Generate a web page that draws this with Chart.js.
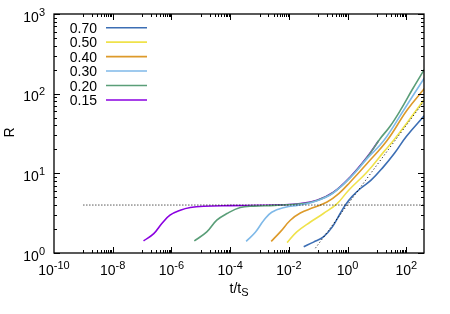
<!DOCTYPE html>
<html><head><meta charset="utf-8">
<script src="https://cdn.jsdelivr.net/npm/chart.js@4.4.1/dist/chart.umd.min.js"></script>
<style>html,body{margin:0;padding:0;background:#fff}#wrap{width:450px;height:314px;position:relative}</style>
</head><body><div id="wrap"><canvas id="c"></canvas></div>
<script>
// ---- data ----
const seriesLabels = ['0.70', '0.50', '0.40', '0.30', '0.20', '0.15'];
const seriesColors = ['#3c6eb4', '#efe24a', '#dd9a2a', '#7fb9e8', '#5a9e78', '#8a00e0'];

const t070 = [3.2e-2, 6.9e-2, 0.15, 0.30, 0.56, 0.83, 1.41, 2.8, 6.3, 15.8, 40, 100, 412];
const r070 = [1.2, 1.37, 1.59, 2.12, 3.13, 3.98, 5.1, 6.5, 8.2, 11.8, 18, 29, 53];

const t050 = [8.7e-3, 1.86e-2, 5.4e-2, 0.15, 0.44, 1.07, 4.6, 17, 37, 126, 412];
const r050 = [1.35, 1.84, 2.45, 3.13, 4.17, 6.1, 10.4, 18.6, 26, 47, 85];

const t040 = [2.5e-3, 5.1e-3, 1.12e-2, 2.45e-2, 6.9e-2, 0.2, 0.5, 1.23, 4.6, 22.4, 105, 412];
const r040 = [1.40, 1.84, 2.58, 3.18, 3.72, 4.37, 5.57, 7.8, 13.3, 26, 62, 116];

const t030 = [3.5e-4, 7.2e-4, 1.38e-3, 2.6e-3, 7.6e-3, 2.1e-2, 6.0e-2, 0.15, 0.33, 1.23, 4.6, 17.4, 81, 412];
const r030 = [1.40, 1.82, 2.55, 3.25, 3.75, 3.97, 4.3, 4.85, 5.7, 8.8, 15.3, 26, 62, 158];

const t020 = [6.0e-6, 1.6e-5, 3.5e-5, 7.8e-5, 2.2e-4, 6.3e-4, 3.2e-3, 2.5e-2, 9.1e-2, 0.33, 1.23, 4.6, 12.6, 28, 63, 158, 412];
const r020 = [1.42, 1.84, 2.58, 3.13, 3.72, 3.88, 3.96, 4.15, 4.57, 5.75, 8.9, 15.8, 27, 39, 62, 112, 202];

const t015 = [1.12e-7, 2.5e-7, 4.7e-7, 8.9e-7, 2.0e-6, 4.4e-6, 1.26e-5, 1e-4, 1e-3, 5e-3, 2.5e-2, 9.1e-2, 0.33, 1.23, 4.6, 11.2];
const r015 = [1.42, 1.75, 2.34, 2.98, 3.44, 3.72, 3.86, 3.93, 3.97, 4.02, 4.18, 4.6, 5.8, 9.0, 16, 25.5];

const plateauT = [1e-9, 400];
const plateauR = [4, 4];
const slopeT = [0.08, 400];
const slopeR = [1.15, 80];

const xMin = 1e-10, xMax = 400, yMin = 1, yMax = 1000;
const xTickExps = [-10, -8, -6, -4, -2, 0, 2];
const xTickLabels = ['-10', '-8', '-6', '-4', '-2', '0', '2'];
const yTickExps = [0, 1, 2, 3];
const yTickLabels = ['0', '1', '2', '3'];
const xTitle = ['t/t', 'S'];
const yTitle = 'R';

// ---- build datasets ----
const seriesT = [t070, t050, t040, t030, t020, t015];
const seriesR = [r070, r050, r040, r030, r020, r015];
const zip = (ts, rs) => ts.map((t, i) => ({x: t, y: rs[i]}));

const datasets = [
  {label: 'plateau', data: zip(plateauT, plateauR), borderColor: '#000', borderWidth: 1, borderDash: [1, 2], pointRadius: 0, tension: 0},
  {label: 'slope', data: zip(slopeT, slopeR), borderColor: '#000', borderWidth: 1, borderDash: [1, 2.5], pointRadius: 0, tension: 0}
];
seriesLabels.forEach((lab, i) => {
  datasets.push({label: lab, data: zip(seriesT[i], seriesR[i]), borderColor: seriesColors[i],
    borderWidth: 1.6, pointRadius: 0, tension: 0.4, fill: false});
});

const FONT = '"Liberation Sans", Arial, sans-serif';

const decor = {
  id: 'decor',
  afterDatasetsDraw(chart) {
    const ctx = chart.ctx, a = chart.chartArea;
    const xs = chart.scales.x, ys = chart.scales.y;
    ctx.save();
    ctx.strokeStyle = '#000';
    ctx.lineWidth = 1;
    const tick = (x1, y1, x2, y2) => { ctx.beginPath(); ctx.moveTo(x1, y1); ctx.lineTo(x2, y2); ctx.stroke(); };
    for (let e = -10; e <= 2; e += 2) {
      const v = Math.pow(10, e);
      const px = Math.round(xs.getPixelForValue(v)) + 0.5;
      if (e > -10) { tick(px, a.bottom, px, a.bottom - 6); tick(px, a.top, px, a.top + 6); }
      for (let k = 1; k <= 9; k++) {
        const mv = k * Math.pow(10, e + 1);
        if (mv > xMax) break;
        const mp = Math.round(xs.getPixelForValue(mv)) + 0.5;
        tick(mp, a.bottom, mp, a.bottom - 3); tick(mp, a.top, mp, a.top + 3);
      }
    }
    for (let e = 0; e <= 3; e++) {
      const py = Math.round(ys.getPixelForValue(Math.pow(10, e))) + 0.5;
      tick(a.left, py, a.left + 6, py); tick(a.right, py, a.right - 6, py);
      if (e < 3) for (let k = 2; k <= 9; k++) {
        const mp = Math.round(ys.getPixelForValue(k * Math.pow(10, e))) + 0.5;
        tick(a.left, mp, a.left + 3, mp); tick(a.right, mp, a.right - 3, mp);
      }
    }
    ctx.lineWidth = 1.3;
    ctx.strokeRect(a.left, a.top, a.right - a.left, a.bottom - a.top);

    ctx.fillStyle = '#000';
    const big = '14px ' + FONT, small = '11px ' + FONT;
    ctx.textBaseline = 'alphabetic';
    xTickExps.forEach((e, i) => {
      const px = xs.getPixelForValue(Math.pow(10, e));
      ctx.font = big; const w1 = ctx.measureText('10').width;
      ctx.font = small; const w2 = ctx.measureText(xTickLabels[i]).width;
      const x0 = px - (w1 + w2) / 2;
      ctx.font = big; ctx.textAlign = 'left'; ctx.fillText('10', x0, a.bottom + 22);
      ctx.font = small; ctx.fillText(xTickLabels[i], x0 + w1, a.bottom + 16);
    });
    yTickExps.forEach((e, i) => {
      const py = ys.getPixelForValue(Math.pow(10, e));
      ctx.font = small; const w2 = ctx.measureText(yTickLabels[i]).width;
      ctx.font = big; const w1 = ctx.measureText('10').width;
      const xr = a.left - 9;
      ctx.textAlign = 'left';
      ctx.font = big; ctx.fillText('10', xr - w2 - w1, py + 7.5);
      ctx.font = small; ctx.fillText(yTickLabels[i], xr - w2, py + 1.5);
    });
    ctx.font = big;
    const wt = ctx.measureText(xTitle[0]).width;
    ctx.font = small; const ws = ctx.measureText(xTitle[1]).width;
    const cx = (a.left + a.right) / 2 - (wt + ws) / 2;
    ctx.font = big; ctx.fillText(xTitle[0], cx, a.bottom + 40);
    ctx.font = small; ctx.fillText(xTitle[1], cx + wt, a.bottom + 43);
    ctx.save();
    ctx.translate(13.5, (a.top + a.bottom) / 2 - 1);
    ctx.rotate(-Math.PI / 2);
    ctx.font = big; ctx.textAlign = 'center';
    ctx.fillText(yTitle, 0, 0);
    ctx.restore();

    seriesLabels.forEach((lab, i) => {
      const y = a.top + 13.7 + i * 14.45;
      ctx.font = big; ctx.textAlign = 'right'; ctx.fillStyle = '#000';
      ctx.fillText(lab, 97, y + 5);
      ctx.strokeStyle = seriesColors[i]; ctx.lineWidth = 1.6;
      ctx.beginPath(); ctx.moveTo(106, y); ctx.lineTo(147, y); ctx.stroke();
    });
    ctx.restore();
  }
};

new Chart(document.getElementById('c'), {
  type: 'line',
  data: {datasets},
  options: {
    responsive: true, maintainAspectRatio: false, animation: false,
    layout: {padding: {left: 54, top: 14, right: 26, bottom: 61}},
    plugins: {legend: {display: false}, tooltip: {enabled: false}},
    scales: {
      x: {type: 'logarithmic', min: xMin, max: xMax, display: false},
      y: {type: 'logarithmic', min: yMin, max: yMax, display: false}
    }
  },
  plugins: [decor]
});
</script></body></html>
